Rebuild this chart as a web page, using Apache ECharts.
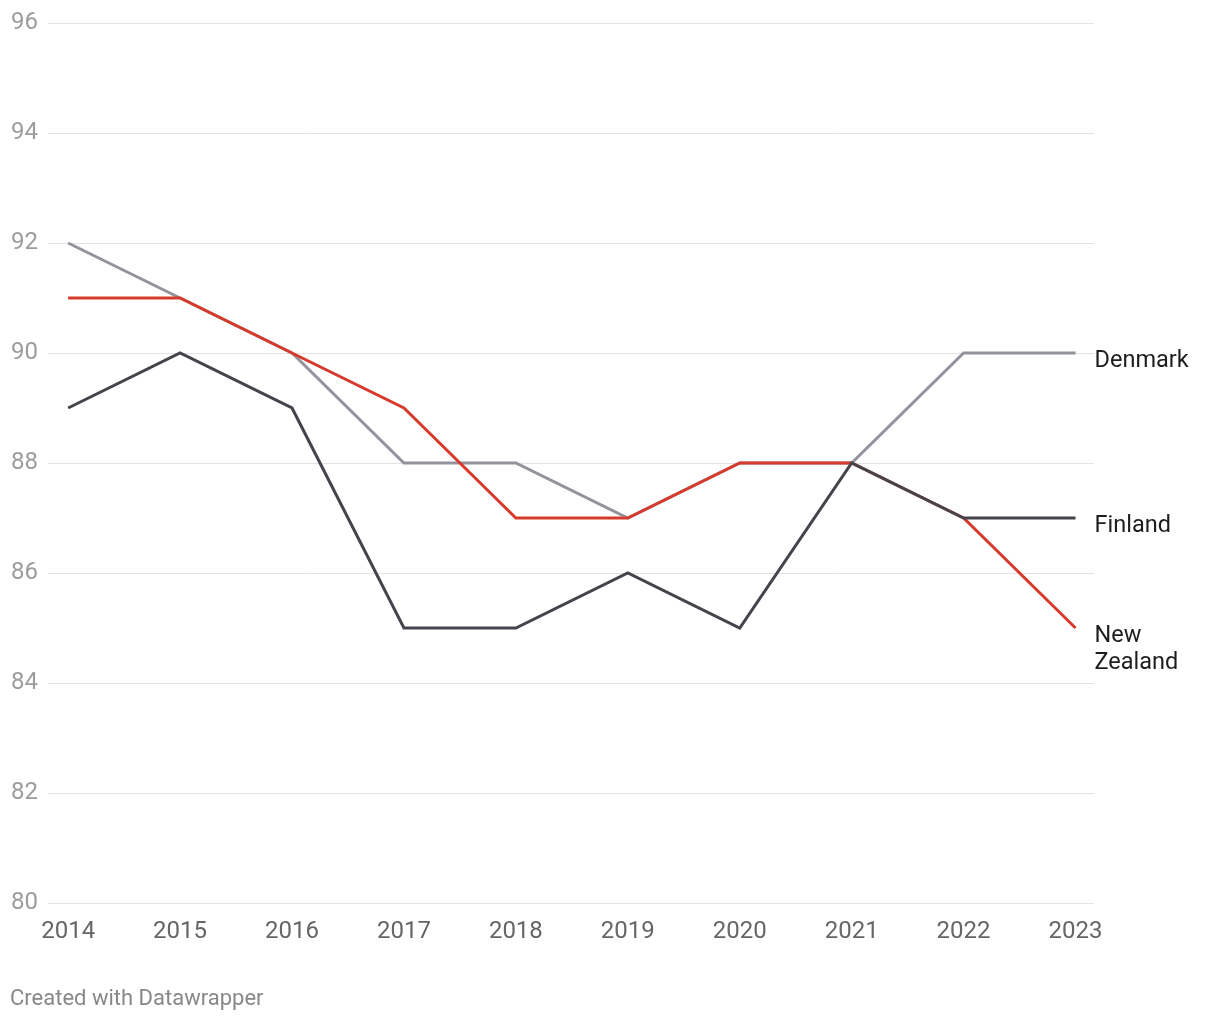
<!DOCTYPE html>
<html><head><meta charset="utf-8">
<script src="https://cdn.jsdelivr.net/npm/echarts@6/dist/echarts.min.js"></script>
<style>html,body{margin:0;padding:0;background:#fff}#c{width:1220px;height:1020px}</style>
</head><body><div id="c"></div>
<script>
const years = [2014, 2015, 2016, 2017, 2018, 2019, 2020, 2021, 2022, 2023];
const denmark = [92, 91, 90, 88, 88, 87, 88, 88, 90, 90];
const newZealand = [91, 91, 90, 89, 87, 87, 88, 88, 87, 85];
const finland = [89, 90, 89, 85, 85, 86, 85, 88, 87, 87];
const yTicks = [80, 82, 84, 86, 88, 90, 92, 94, 96];

const font = 'Roboto';
function pts(vals){ return years.map((y,i)=>[y, vals[i]]); }
function mk(name, vals, color, z, offY){
  return {
    name: name, type: 'line', data: pts(vals), symbol: 'none', z: z,
    lineStyle: {color: color, width: 3, join: 'miter'},
    itemStyle: {color: color},
    endLabel: {show: true, formatter: name === 'New Zealand' ? 'New\nZealand' : name,
      color: '#1d1d1d', fontFamily: font, fontSize: 23.5, lineHeight: 27,
      distance: 19, offset: [0, offY], align: 'left'},
    emphasis: {disabled: true}, animation: false
  };
}
const chart = echarts.init(document.getElementById('c'));
chart.setOption({
  animation: false,
  grid: {left: 48, right: 126, top: 23, bottom: 117, containLabel: false},
  xAxis: {
    type: 'value', min: 2013.82, max: 2023.165,
    axisLine: {show: false}, axisTick: {show: false}, splitLine: {show: false},
    axisLabel: {customValues: years, color: '#666', fontFamily: font, fontSize: 24, margin: 17,
      formatter: v => String(Math.round(v))}
  },
  yAxis: {
    type: 'value', min: 80, max: 96, interval: 2,
    axisLine: {show: false}, axisTick: {show: false},
    splitLine: {lineStyle: {color: '#e3e3e3', width: 1}},
    axisLabel: {customValues: yTicks, color: '#9c9c9c', fontFamily: font, fontSize: 24, margin: 10, align: 'right',
      padding: [4, 0, 0, 0]}
  },
  series: [
    mk('Denmark', denmark, '#94929c', 2, 8),
    mk('New Zealand', newZealand, '#d63a2c', 3, 22),
    mk('Finland', finland, '#46434d', 4, 8)
  ],
  graphic: [{type: 'text', left: 10, top: 988,
    style: {text: 'Created with Datawrapper', fill: '#888', font: '22px Roboto'}}]
});
</script></body></html>
